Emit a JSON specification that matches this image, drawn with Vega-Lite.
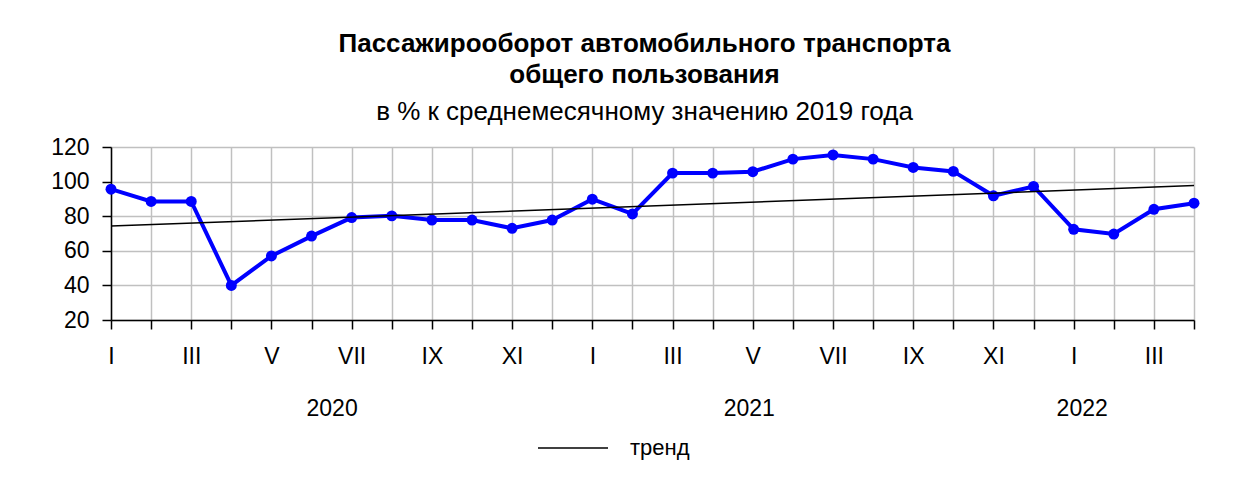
{
  "$schema": "https://vega.github.io/schema/vega-lite/v6.json",
  "autosize": {"type": "none"},
  "width": 1083,
  "height": 173,
  "padding": {"left": 111, "top": 147, "right": 43, "bottom": 157},
  "background": "white",
  "config": {
    "view": {"stroke": null},
    "font": "Liberation Sans",
    "axis": {
      "labelFont": "Liberation Sans",
      "labelFontSize": 23,
      "labelColor": "black",
      "domainColor": "black",
      "domainWidth": 1.5,
      "tickColor": "black",
      "tickWidth": 1.5,
      "gridColor": "#c0c0c0",
      "gridWidth": 1.5,
      "gridOpacity": 1,
      "title": null
    }
  },
  "title": {
    "text": ["Пассажирооборот автомобильного транспорта", "общего пользования"],
    "subtitle": "в % к среднемесячному значению 2019 года",
    "anchor": "middle",
    "frame": "group",
    "dx": -8,
    "font": "Liberation Sans",
    "fontSize": 26,
    "fontWeight": "bold",
    "lineHeight": 31,
    "color": "black",
    "subtitleFont": "Liberation Sans",
    "subtitleFontSize": 26,
    "subtitleColor": "black",
    "subtitlePadding": 11,
    "offset": 11
  },
  "datasets": {
    "series": [
      {"i": 0, "v": 95.6},
      {"i": 1, "v": 88.5},
      {"i": 2, "v": 88.5},
      {"i": 3, "v": 40.0},
      {"i": 4, "v": 57.0},
      {"i": 5, "v": 68.5},
      {"i": 6, "v": 79.2},
      {"i": 7, "v": 80.2},
      {"i": 8, "v": 77.8},
      {"i": 9, "v": 77.8},
      {"i": 10, "v": 73.0},
      {"i": 11, "v": 77.8},
      {"i": 12, "v": 89.8},
      {"i": 13, "v": 81.3},
      {"i": 14, "v": 104.9},
      {"i": 15, "v": 104.9},
      {"i": 16, "v": 105.7},
      {"i": 17, "v": 113.0},
      {"i": 18, "v": 115.4},
      {"i": 19, "v": 113.0},
      {"i": 20, "v": 108.2},
      {"i": 21, "v": 105.9},
      {"i": 22, "v": 91.8},
      {"i": 23, "v": 97.2},
      {"i": 24, "v": 72.4},
      {"i": 25, "v": 69.7},
      {"i": 26, "v": 84.0},
      {"i": 27, "v": 87.5}
    ],
    "trend": [
      {"i": 0, "t": 74.3, "s": "тренд"},
      {"i": 27, "t": 97.7, "s": "тренд"}
    ]
  },
  "resolve": {"axis": {"x": "independent", "y": "independent"}},
  "layer": [
    {
      "data": {"name": "series"},
      "mark": {
        "type": "line",
        "color": "#0000ff",
        "strokeWidth": 4,
        "point": {"filled": true, "size": 120, "color": "#0000ff", "opacity": 1}
      },
      "encoding": {
        "x": {
          "field": "i",
          "type": "quantitative",
          "scale": {"domain": [0, 27], "nice": false, "zero": false},
          "axis": {
            "orient": "bottom",
            "values": [0,1,2,3,4,5,6,7,8,9,10,11,12,13,14,15,16,17,18,19,20,21,22,23,24,25,26,27],
            "labelExpr": "datum.value % 2 == 0 ? ['I','II','III','IV','V','VI','VII','VIII','IX','X','XI','XII'][datum.value % 12] : ''",
            "labelOverlap": false,
            "labelFlush": false,
            "labelBound": false,
            "tickSize": 9,
            "labelPadding": 16,
            "labelAngle": 0,
            "grid": true
          }
        },
        "y": {
          "field": "v",
          "type": "quantitative",
          "scale": {"domain": [20, 120], "nice": false, "zero": false},
          "axis": {
            "orient": "left",
            "values": [20, 40, 60, 80, 100, 120],
            "tickSize": 9,
            "labelPadding": 13,
            "labelFlush": false,
            "labelOverlap": false,
            "grid": true
          }
        }
      }
    },
    {
      "data": {"name": "trend"},
      "mark": {"type": "line", "strokeWidth": 1.5},
      "encoding": {
        "x": {
          "field": "i",
          "type": "quantitative",
          "scale": {"domain": [0, 27], "nice": false, "zero": false},
          "axis": {
            "orient": "bottom",
            "values": [5.5, 15.9, 24.2],
            "labelExpr": "datum.value < 11 ? '2020' : datum.value < 23 ? '2021' : '2022'",
            "domain": false,
            "ticks": false,
            "tickSize": 0,
            "grid": false,
            "labelOverlap": false,
            "labelFlush": false,
            "labelBound": false,
            "labelPadding": 0,
            "labelAngle": 0,
            "offset": 77
          }
        },
        "y": {
          "field": "t",
          "type": "quantitative",
          "scale": {"domain": [20, 120], "nice": false, "zero": false},
          "axis": null
        },
        "color": {
          "field": "s",
          "type": "nominal",
          "scale": {"range": ["black"]},
          "legend": {
            "orient": "none",
            "legendX": 426,
            "legendY": 265,
            "title": null,
            "symbolType": "stroke",
            "symbolSize": 4900,
            "symbolStrokeWidth": 1.5,
            "symbolStrokeColor": "black",
            "labelFont": "Liberation Sans",
            "labelFontSize": 22,
            "labelColor": "black",
            "labelOffset": 21,
            "padding": 0
          }
        }
      }
    }
  ]
}
